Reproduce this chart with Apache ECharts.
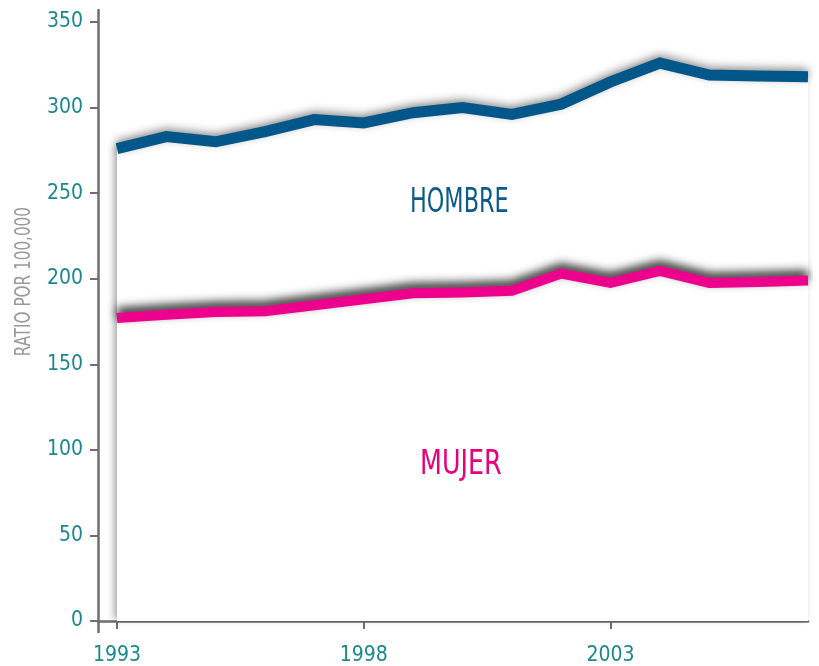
<!DOCTYPE html>
<html>
<head>
<meta charset="utf-8">
<script src="https://cdn.jsdelivr.net/npm/echarts@6/dist/echarts.min.js"></script>
<style>
  html, body { margin: 0; padding: 0; background: #fff; }
  #chart { width: 819px; height: 666px; }
</style>
</head>
<body>
<div id="chart"></div>
<script>
// datos
const years = [1993, 1994, 1995, 1996, 1997, 1998, 1999, 2000, 2001, 2002, 2003, 2004, 2005, 2006, 2007];
const hombre = [276, 283, 280, 286, 293, 291, 297, 300, 296, 302, 315, 326, 319, 318.5, 318];
const mujer = [177, 179, 180.5, 181, 184.5, 188, 191.5, 192, 193, 203, 197.5, 204.5, 197.5, 198, 199];
const yTicks = [0, 50, 100, 150, 200, 250, 300, 350];
const xTicks = [1993, 1998, 2003];

const FONT = "'DejaVu Sans Condensed', 'Liberation Sans Narrow', sans-serif";
const TEAL = '#1a8890';
const AXIS = '#6e6e72';

const chart = echarts.init(document.getElementById('chart'), null, { renderer: 'canvas' });

const toPairs = (vals) => vals.map((v, i) => [years[i], v]);

chart.setOption({
  animation: false,
  backgroundColor: '#fff',
  grid: { left: 98, right: 11, top: 10, bottom: 34 },
  xAxis: {
    type: 'value',
    min: 1992.615,
    max: 2007,
    splitLine: { show: false },
    axisLine: { lineStyle: { color: AXIS, width: 2.5 } },
    axisTick: {
      length: 8,
      customValues: xTicks,
      lineStyle: { color: AXIS, width: 2 },
    },
    axisLabel: {
      customValues: xTicks,
      color: TEAL,
      fontSize: 21,
      fontFamily: FONT,
      margin: 13,
      formatter: (v) => String(v),
    },
  },
  yAxis: {
    type: 'value',
    min: -6.43,
    max: 357,
    splitLine: { show: false },
    axisLine: { show: true, lineStyle: { color: AXIS, width: 2.5 } },
    axisTick: {
      show: true,
      length: 8,
      customValues: yTicks,
      lineStyle: { color: AXIS, width: 2 },
    },
    axisLabel: {
      customValues: yTicks,
      color: TEAL,
      fontSize: 21,
      fontFamily: FONT,
      margin: 15,
    },
  },
  graphic: [
    {
      type: 'text',
      left: 13,
      top: 207,
      z: 100,
      rotation: Math.PI / 2,
      scaleX: 0.77,
      style: {
        text: 'RATIO POR 100,000',
        fill: '#9a9a9a',
        fontSize: 22,
        fontFamily: FONT,
      },
    },
    {
      type: 'text',
      left: 410,
      top: 186,
      z: 100,
      scaleX: 0.73,
      style: { text: 'HOMBRE', fill: '#0b5a8a', fontSize: 34, fontFamily: FONT },
    },
    {
      type: 'text',
      left: 420,
      top: 448,
      z: 100,
      scaleX: 0.83,
      style: { text: 'MUJER', fill: '#e6007e', fontSize: 34, fontFamily: FONT },
    },
  ],
  series: [
    {
      name: 'Hombre',
      type: 'line',
      data: toPairs(hombre),
      symbol: 'none',
      lineStyle: {
        color: '#02578a',
        width: 11,
        cap: 'butt',
        join: 'miter',
        shadowColor: 'rgba(0,0,0,0.4)',
        shadowBlur: 8,
        shadowOffsetY: -3,
      },
      areaStyle: {
        origin: 0,
        color: '#fff',
        opacity: 1,
        shadowColor: 'rgba(0,0,0,0.35)',
        shadowBlur: 7,
        shadowOffsetX: -3,
        shadowOffsetY: -2,
      },
      z: 2,
    },
    {
      name: 'Mujer',
      type: 'line',
      data: toPairs(mujer),
      symbol: 'none',
      lineStyle: {
        color: '#ec008c',
        width: 10,
        cap: 'butt',
        join: 'miter',
        shadowColor: 'rgba(0,0,0,0.85)',
        shadowBlur: 10,
        shadowOffsetY: -5,
      },
      z: 3,
    },
  ],
});
</script>
</body>
</html>
